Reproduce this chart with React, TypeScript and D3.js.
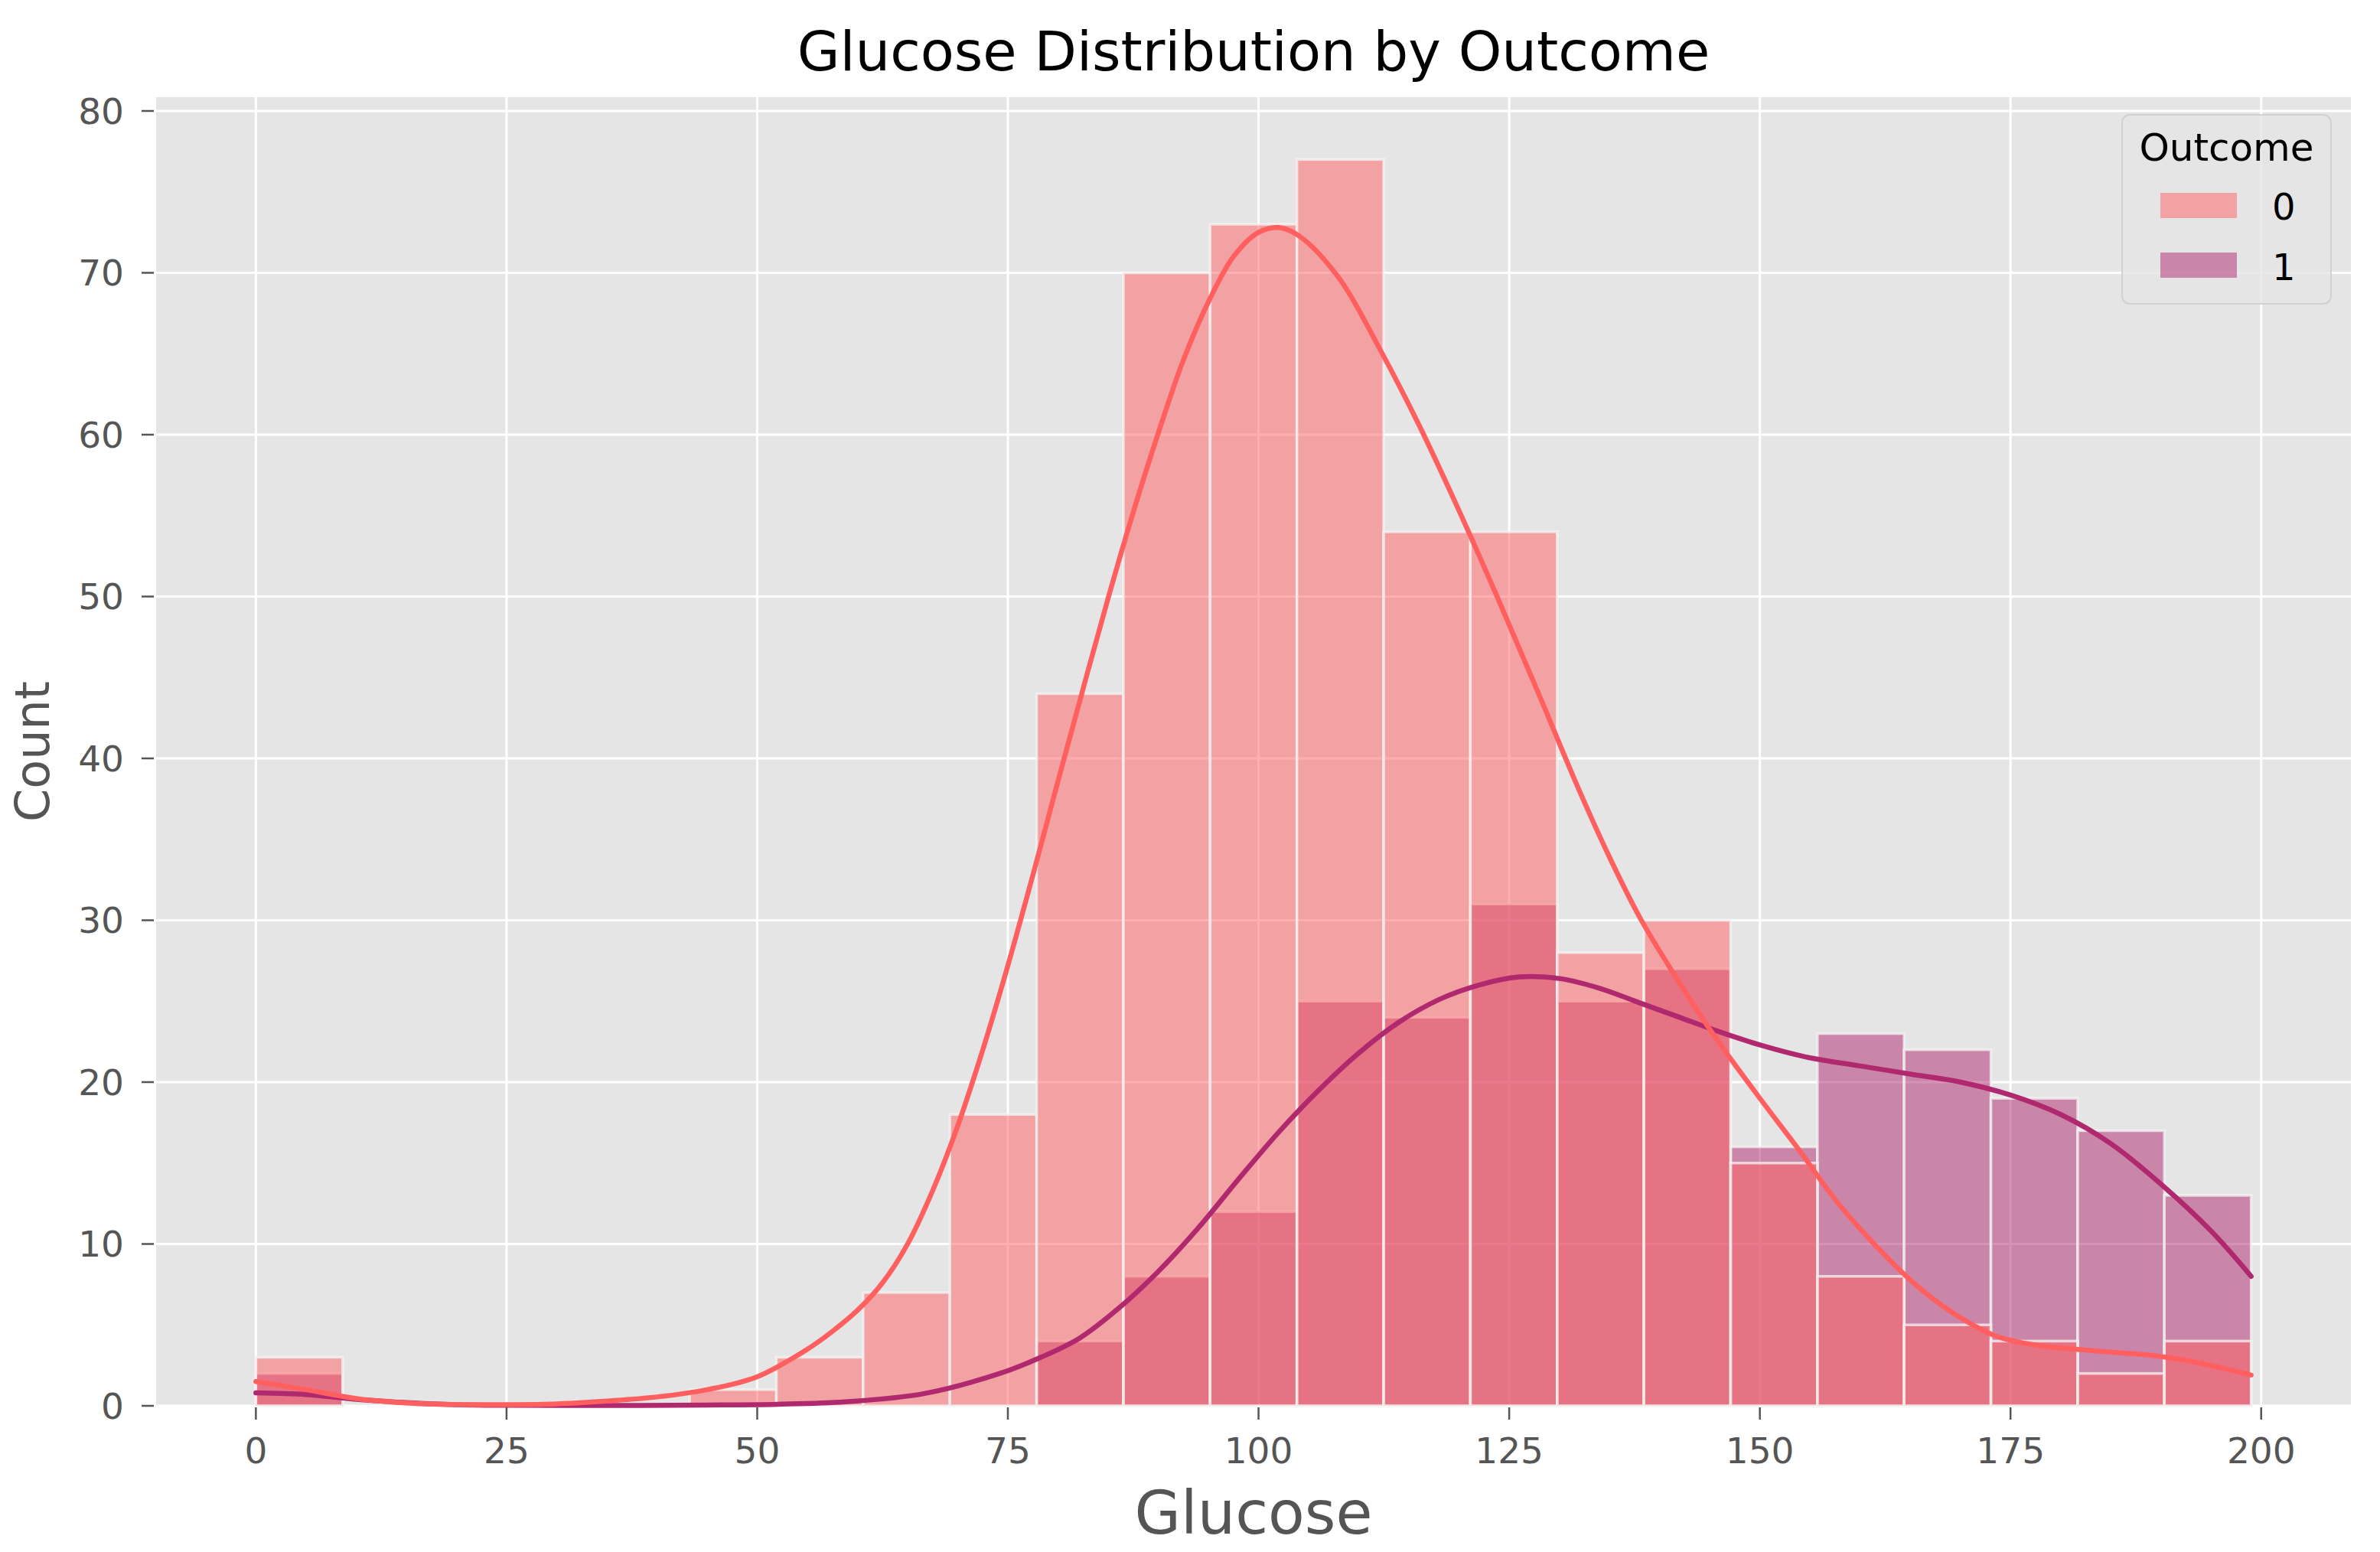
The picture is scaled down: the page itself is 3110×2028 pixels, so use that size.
import * as d3 from "d3";

// histogram: 23 equal bins over the observed Glucose range
const glucoseRange: [number, number] = [0, 199];
const binCount = 23;

const outcomes = ["0", "1"];
const countsOutcome0 = [3, 0, 0, 0, 0, 1, 3, 7, 18, 44, 70, 73, 77, 54, 54, 28, 30, 15, 8, 5, 4, 2, 4];
const countsOutcome1 = [2, 0, 0, 0, 0, 0, 0, 0, 0, 4, 8, 12, 25, 24, 31, 25, 27, 16, 23, 22, 19, 17, 13];

// KDE curves (glucose, count)
const kdeOutcome0: [number, number][] = [
  [0, 1.5], [5, 1.0], [10, 0.45], [15, 0.18], [20, 0.08], [25, 0.07], [30, 0.12],
  [35, 0.3], [40, 0.55], [45, 1.0], [50, 1.8], [55, 3.5], [57.5, 4.6], [60, 5.9],
  [62.5, 7.6], [65, 10.0], [67.5, 13.3], [70, 17.3], [72.5, 22.0], [75, 27.2],
  [77.5, 32.8], [80, 38.6], [82.5, 44.3], [85, 49.9], [87.5, 55.2], [90, 60.1],
  [92.5, 64.6], [95, 68.2], [97.5, 71.0], [100, 72.5], [102, 72.8], [104, 72.3],
  [108, 69.7], [112, 65.4], [116, 60.6], [120, 55.3], [124, 49.7], [128, 43.9],
  [132, 38.0], [135, 33.9], [138, 30.2], [141.3, 26.8], [145.3, 23.0], [150, 19.0],
  [153.8, 15.9], [157.7, 12.6], [161.7, 9.8], [165.7, 7.4], [169.6, 5.6], [173.6, 4.3],
  [177.5, 3.75], [181.5, 3.5], [185.4, 3.3], [189.4, 3.1], [193.4, 2.7], [199, 1.9],
];
const kdeOutcome1: [number, number][] = [
  [0, 0.8], [5, 0.7], [10, 0.4], [15, 0.2], [20, 0.07], [25, 0.03], [35, 0.02],
  [45, 0.05], [52, 0.1], [58.8, 0.25], [66.6, 0.75], [74.2, 2.0], [78.3, 3.0],
  [82.2, 4.2], [86, 6.0], [90, 8.3], [94, 11.0], [98, 14.0], [102, 16.9], [106, 19.5],
  [110, 21.8], [114, 23.7], [118, 25.1], [122, 26.0], [126, 26.5], [130, 26.4],
  [134, 25.8], [138, 24.9], [142, 24.0], [146, 23.1], [150, 22.3], [155, 21.5],
  [160, 21.0], [165, 20.5], [170, 20.0], [175, 19.2], [180, 18.0], [185, 16.2],
  [190, 13.7], [195, 10.8], [199, 8.0],
];

const xTicks = [0, 25, 50, 75, 100, 125, 150, 175, 200];
const yTicks = [0, 10, 20, 30, 40, 50, 60, 70, 80];

const colors = ["#ff5f5f", "#b0286e"];

const W = 3110;
const H = 2028;
const plot = { left: 204, right: 3072, top: 127, bottom: 1837 };
const font = "'DejaVu Sans', sans-serif";
const grey = "#555555";

export default function App() {
  const pad = (glucoseRange[1] - glucoseRange[0]) * 0.05;
  const x = d3.scaleLinear()
    .domain([glucoseRange[0] - pad, glucoseRange[1] + pad])
    .range([plot.left, plot.right]);
  const yMax = d3.max([...countsOutcome0, ...countsOutcome1]) as number;
  const y = d3.scaleLinear().domain([0, yMax * 1.05]).range([plot.bottom, plot.top]);

  const binW = (glucoseRange[1] - glucoseRange[0]) / binCount;
  const bars = (counts: number[]) =>
    counts.map((c, i) => ({ x0: glucoseRange[0] + i * binW, x1: glucoseRange[0] + (i + 1) * binW, c }))
      .filter(d => d.c > 0);

  const line = d3.line<[number, number]>()
    .x(d => x(d[0]))
    .y(d => y(Math.max(0, d[1])))
    .curve(d3.curveCatmullRom.alpha(0.5));

  // outcome 1 underneath, outcome 0 layered on top
  const series = [
    { key: "1", bars: bars(countsOutcome1), color: colors[1], kde: kdeOutcome1 },
    { key: "0", bars: bars(countsOutcome0), color: colors[0], kde: kdeOutcome0 },
  ];

  const legend = { x: 2773, y: 150, w: 273, h: 247 };

  return (
    <div style={{ position: "absolute", left: 0, top: 0 }}>
      <svg width={W} height={H} style={{ display: "block", background: "#fff" }} fontFamily={font}>
        <rect x={plot.left} y={plot.top} width={plot.right - plot.left} height={plot.bottom - plot.top} fill="#e5e5e5" />
        {xTicks.map(t => (
          <line key={"gx" + t} x1={x(t)} x2={x(t)} y1={plot.top} y2={plot.bottom} stroke="#fff" strokeWidth={3} />
        ))}
        {yTicks.map(t => (
          <line key={"gy" + t} x1={plot.left} x2={plot.right} y1={y(t)} y2={y(t)} stroke="#fff" strokeWidth={3} />
        ))}

        {series.map(s => (
          <g key={"bars" + s.key}>
            {s.bars.map((b, i) => (
              <rect
                key={i}
                x={x(b.x0)}
                y={y(b.c)}
                width={x(b.x1) - x(b.x0)}
                height={y(0) - y(b.c)}
                fill={s.color}
                fillOpacity={0.5}
                stroke="#f4f4f4"
                strokeOpacity={0.75}
                strokeWidth={3.5}
              />
            ))}
          </g>
        ))}

        {series.map(s => (
          <path key={"kde" + s.key} d={line(s.kde) ?? ""} fill="none" stroke={s.color} strokeWidth={6.5} strokeLinejoin="round" strokeLinecap="round" />
        ))}

        {/* x axis */}
        {xTicks.map(t => (
          <g key={"xt" + t}>
            <line x1={x(t)} x2={x(t)} y1={plot.bottom + 2} y2={plot.bottom + 18} stroke={grey} strokeWidth={2.5} />
            <text x={x(t)} y={1912} textAnchor="middle" fontSize={47} fill={grey}>{t}</text>
          </g>
        ))}
        {/* y axis */}
        {yTicks.map(t => (
          <g key={"yt" + t}>
            <line x1={plot.left - 19} x2={plot.left - 3} y1={y(t)} y2={y(t)} stroke={grey} strokeWidth={2.5} />
            <text x={162} y={y(t)} dy="0.36em" textAnchor="end" fontSize={47} fill={grey}>{t}</text>
          </g>
        ))}

        <text x={(plot.left + plot.right) / 2} y={92} textAnchor="middle" fontSize={72} fill="#000">
          Glucose Distribution by Outcome
        </text>
        <text x={(plot.left + plot.right) / 2} y={2004} textAnchor="middle" fontSize={78} fill={grey}>
          Glucose
        </text>
        <text transform={`translate(64,${(plot.top + plot.bottom) / 2}) rotate(-90)`} textAnchor="middle" fontSize={62} fill={grey}>
          Count
        </text>

        {/* legend */}
        <g>
          <rect x={legend.x} y={legend.y} width={legend.w} height={legend.h} rx={10}
            fill="#e5e5e5" fillOpacity={0.8} stroke="#cccccc" strokeOpacity={0.8} strokeWidth={2} />
          <text x={legend.x + legend.w / 2} y={legend.y + 60} textAnchor="middle" fontSize={50} fill="#000">Outcome</text>
          {outcomes.map((o, i) => (
            <g key={"lg" + o}>
              <rect x={legend.x + 50} y={legend.y + 102 + i * 78} width={100} height={33} fill={colors[i]} fillOpacity={0.5} />
              <text x={legend.x + 196} y={legend.y + 137 + i * 79} fontSize={48} fill="#000">{o}</text>
            </g>
          ))}
        </g>
      </svg>
    </div>
  );
}
